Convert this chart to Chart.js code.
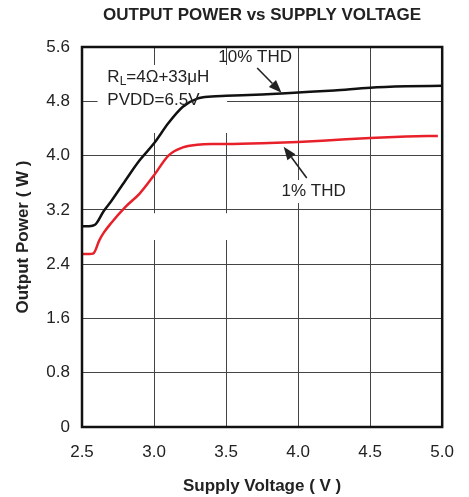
<!DOCTYPE html>
<html>
<head>
<meta charset="utf-8">
<script src="https://cdn.jsdelivr.net/npm/chart.js@4/dist/chart.umd.min.js"></script>
<style>
  html, body { margin: 0; padding: 0; background: #fff; }
  canvas { display: block; }
</style>
</head>
<body>
<canvas id="myChart" width="469" height="497"></canvas>
<script>
// supply voltage (V) and output power (W)
const voltage10 = [2.5, 2.55, 2.59, 2.65, 2.7, 2.8, 2.9, 3.0, 3.1, 3.2, 3.3, 3.4, 3.5, 3.75, 4.0, 4.25, 4.5, 4.75, 5.0];
const power10 = [2.96, 2.96, 2.98, 3.18, 3.32, 3.63, 3.93, 4.18, 4.48, 4.72, 4.84, 4.87, 4.88, 4.90, 4.93, 4.96, 5.00, 5.02, 5.03];

const voltage1 = [2.5, 2.55, 2.58, 2.62, 2.65, 2.7, 2.8, 2.9, 3.0, 3.1, 3.2, 3.3, 3.4, 3.5, 3.75, 4.0, 4.25, 4.5, 4.75, 4.97];
const power1 = [2.55, 2.55, 2.56, 2.75, 2.86, 3.0, 3.24, 3.44, 3.71, 4.0, 4.12, 4.16, 4.17, 4.17, 4.18, 4.20, 4.23, 4.26, 4.28, 4.29];

const xTicks = [2.5, 3.0, 3.5, 4.0, 4.5, 5.0];
const yTicks = [0, 0.8, 1.6, 2.4, 3.2, 4.0, 4.8, 5.6];

const FONT = "'Liberation Sans', Arial, sans-serif";

function toPoints(xs, ys) {
    return xs.map(function (v, i) { return { x: v, y: ys[i] }; });
}

function arrow(ctx, x1, y1, x2, y2) {
    const a = Math.atan2(y2 - y1, x2 - x1);
    const len = 13, w = 5;
    const bx = x2 - len * Math.cos(a), by = y2 - len * Math.sin(a);
    ctx.beginPath();
    ctx.moveTo(x1, y1);
    ctx.lineTo(bx, by);
    ctx.stroke();
    ctx.beginPath();
    ctx.moveTo(x2, y2);
    ctx.lineTo(bx + w * Math.sin(a), by - w * Math.cos(a));
    ctx.lineTo(bx - w * Math.sin(a), by + w * Math.cos(a));
    ctx.closePath();
    ctx.fill();
}

// white patches behind the labels (they cut the grid in the original)
const gridGaps = {
    id: 'gridGaps',
    beforeDatasetsDraw(chart) {
        const ctx = chart.ctx, x = chart.scales.x, y = chart.scales.y;
        const boxes = [
            [2.608, 3.507, 5.335, 4.333],
            [2.9, 3.6, 3.15, 2.756],
            [3.87, 4.32, 3.64, 3.30]
        ];
        ctx.save();
        ctx.fillStyle = '#fff';
        boxes.forEach(function (b) {
            const l = x.getPixelForValue(b[0]), r = x.getPixelForValue(b[1]);
            const t = y.getPixelForValue(b[2]), btm = y.getPixelForValue(b[3]);
            ctx.fillRect(l, t, r - l, btm - t);
        });
        ctx.restore();
    }
};

const notes = {
    id: 'notes',
    afterDraw(chart) {
        const ctx = chart.ctx, x = chart.scales.x, y = chart.scales.y, a = chart.chartArea;
        const px = function (v) { return x.getPixelForValue(v); };
        const py = function (v) { return y.getPixelForValue(v); };
        ctx.save();

        // frame
        ctx.strokeStyle = '#111';
        ctx.lineWidth = 2.5;
        ctx.strokeRect(a.left, a.top, a.right - a.left, a.bottom - a.top);

        // title
        ctx.fillStyle = '#222';
        ctx.font = 'bold 17px ' + FONT;
        ctx.textAlign = 'center';
        ctx.textBaseline = 'middle';
        ctx.fillText('OUTPUT POWER vs SUPPLY VOLTAGE', (a.left + a.right) / 2, 15);

        // curve labels
        ctx.font = '17px ' + FONT;
        ctx.textAlign = 'left';
        ctx.fillText('10% THD', px(3.446), py(5.45));
        ctx.fillText('1% THD', px(3.885), py(3.48));

        ctx.fillText('R', px(2.676), py(5.16));
        let w = ctx.measureText('R').width;
        ctx.font = '12px ' + FONT;
        ctx.fillText('L', px(2.676) + w, py(5.16) + 5);
        w += ctx.measureText('L').width;
        ctx.font = '17px ' + FONT;
        ctx.fillText('=4\u03A9+33\u03BCH', px(2.676) + w, py(5.16));
        ctx.fillText('PVDD=6.5V', px(2.676), py(4.82));

        ctx.strokeStyle = '#222';
        ctx.lineWidth = 1.6;
        arrow(ctx, px(3.716), py(5.29), px(3.885), py(4.925));
        arrow(ctx, px(4.06), py(3.67), px(3.90), py(4.13));
        ctx.restore();
    }
};

const ctx = document.getElementById('myChart').getContext('2d');
const myChart = new Chart(ctx, {
    type: 'line',
    data: {
        datasets: [
            {
                label: '10% THD',
                data: toPoints(voltage10, power10),
                borderColor: '#111111',
                borderWidth: 2.5,
                pointRadius: 0,
                fill: false,
                cubicInterpolationMode: 'monotone'
            },
            {
                label: '1% THD',
                data: toPoints(voltage1, power1),
                borderColor: '#e8202a',
                borderWidth: 2.5,
                pointRadius: 0,
                fill: false,
                cubicInterpolationMode: 'monotone'
            }
        ]
    },
    options: {
        responsive: false,
        animation: false,
        devicePixelRatio: 1,
        layout: { padding: { top: 47, right: 17, left: 0, bottom: 0 } },
        plugins: {
            legend: { display: false },
            title: { display: false },
            tooltip: { enabled: false }
        },
        scales: {
            x: {
                type: 'linear',
                min: 2.5,
                max: 5.0,
                afterBuildTicks: function (s) { s.ticks = xTicks.map(function (v) { return { value: v }; }); },
                afterFit: function (s) { s.height = 70; },
                ticks: {
                    color: '#222',
                    font: { family: FONT, size: 17 },
                    padding: 15,
                    callback: function (v) { return v.toFixed(1); }
                },
                grid: { color: '#444', lineWidth: 1, drawTicks: false },
                border: { display: false },
                title: {
                    display: true,
                    text: 'Supply Voltage ( V )',
                    color: '#222',
                    font: { family: FONT, size: 17, weight: 'bold' },
                    padding: { top: 0, bottom: 0 }
                }
            },
            y: {
                min: 0,
                max: 5.6,
                afterBuildTicks: function (s) { s.ticks = yTicks.map(function (v) { return { value: v }; }); },
                afterFit: function (s) { s.width = 82; },
                ticks: {
                    color: '#222',
                    font: { family: FONT, size: 17 },
                    padding: 12,
                    callback: function (v) { return v === 0 ? '0' : v.toFixed(1); }
                },
                grid: { color: '#444', lineWidth: 1, drawTicks: false },
                border: { display: false },
                title: {
                    display: true,
                    text: 'Output Power ( W )',
                    color: '#222',
                    font: { family: FONT, size: 17, weight: 'bold' },
                    padding: { top: 13, bottom: 0 }
                }
            }
        }
    },
    plugins: [gridGaps, notes]
});
</script>
</body>
</html>
